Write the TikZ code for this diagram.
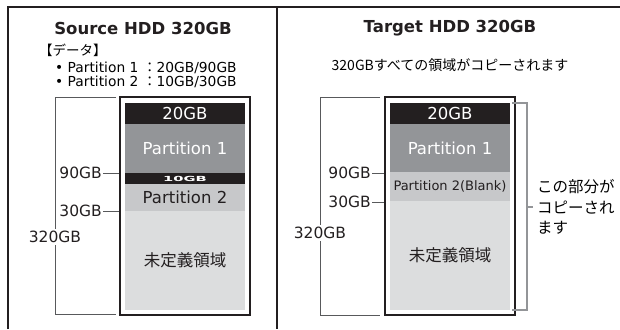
\documentclass[tikz,border=0pt]{standalone}
\usepackage{fontspec}
\setmainfont{DejaVu Sans}
\newfontfamily\jpfont{Noto Sans CJK JP}
\usetikzlibrary{positioning}
\definecolor{bandblack}{HTML}{231F20}
\definecolor{partgrey}{HTML}{939598}
\definecolor{blankgrey}{HTML}{C7C8CA}
\definecolor{freegrey}{HTML}{DCDDDE}
\definecolor{linegrey}{HTML}{58595B}

\begin{document}
\begin{tikzpicture}[x=1pt,y=-1pt,
    frame/.style={draw=bandblack,line width=2pt},
    disk/.style={draw=bandblack,line width=2pt,minimum width=130pt,minimum height=218pt,inner sep=0pt},
    band/.style={minimum width=120pt,inner sep=0pt,outer sep=0pt,font=\fontsize{16.5}{16}\selectfont},
    size/.style={font=\fontsize{15.5}{16}\selectfont,inner sep=1pt,text=bandblack},
    brace/.style={draw=linegrey,line width=0.8pt},
    copybr/.style={draw=partgrey,line width=1.5pt},
    title/.style={font=\bfseries\fontsize{16.5}{18}\selectfont,text=bandblack}]
    \useasboundingbox (0,0) rectangle (620,329);
    \draw[frame] (8,329) -- (8,7) -- (620,7);
    \draw[frame] (277,7) -- (277,329);
    \node[title] (stitle) at (143,28) {Source HDD 320GB};
    \node[title] (ttitle) at (450,28) {Target HDD 320GB};
    \node[anchor=west,inner sep=0pt,font=\jpfont\fontsize{13.5}{14}\selectfont] (sdata) at (39,50) {【データ】};
    \node[anchor=west,inner sep=0pt,font=\fontsize{13.8}{14}\selectfont] (sinfo1) at (55,68) {• Partition 1 {\jpfont ：}20GB/90GB};
    \node[anchor=west,inner sep=0pt,font=\fontsize{13.8}{14}\selectfont] (sinfo2) at (55,82) {• Partition 2 {\jpfont ：}10GB/30GB};
    \node[inner sep=0pt,font=\jpfont\fontsize{14}{14}\selectfont] (tnote) at (450,65) {320GBすべての領域がコピーされます};

    \node[disk] (sdisk) at (185,206) {};
    \node[band,fill=bandblack,text=white,minimum height=21pt,anchor=north] (s20) at (185,103) {20GB};
    \node[band,fill=partgrey,text=white,minimum height=49pt,below=0pt of s20] (sp1) {Partition 1};
    \node[band,fill=bandblack,text=white,minimum height=11pt,below=0pt of sp1,font=\bfseries\fontsize{7}{7}\selectfont] (s10) {\scalebox{2.1}[1]{10GB}};
    \node[band,fill=blankgrey,text=bandblack,minimum height=27pt,below=0pt of s10] (sp2) {Partition 2};
    \node[band,fill=freegrey,text=bandblack,minimum height=99pt,below=0pt of sp2,font=\jpfont\fontsize{16.5}{16}\selectfont] (sfree) {未定義領域};
    \node[size,anchor=east] (s90) at (103,173) {90GB};
    \node[size,anchor=east] (s30) at (103,211) {30GB};
    \draw[brace] (s90.east) -- (s90.east -| sdisk.west);
    \draw[brace] (s30.east) -- (s30.east -| sdisk.west);
    \coordinate (sbrtop) at (116,97);
    \coordinate (sbrbot) at (116,314);
    \node[size,inner sep=2pt] (s320) at (55,237) {320GB};
    \draw[brace] (sbrtop) -| (s320.north);
    \draw[brace] (s320.south) |- (sbrbot);

    \node[disk] (tdisk) at (450,206) {};
    \node[band,fill=bandblack,text=white,minimum height=21pt,anchor=north] (t20) at (450,103) {20GB};
    \node[band,fill=partgrey,text=white,minimum height=48pt,below=0pt of t20] (tp1) {Partition 1};
    \node[band,fill=blankgrey,text=bandblack,minimum height=29pt,below=0pt of tp1,font=\fontsize{13}{13}\selectfont] (tp2) {Partition 2(Blank)};
    \node[band,fill=freegrey,text=bandblack,minimum height=109pt,below=0pt of tp2,font=\jpfont\fontsize{16.5}{16}\selectfont] (tfree) {未定義領域};
    \node[size,anchor=east] (t90) at (372,173) {90GB};
    \node[size,anchor=east] (t30) at (372,202) {30GB};
    \draw[brace] (t90.east) -- (t90.east -| tdisk.west);
    \draw[brace] (t30.east) -- (t30.east -| tdisk.west);
    \coordinate (tbrtop) at (380,97);
    \coordinate (tbrbot) at (380,315);
    \node[size,inner sep=2pt] (t320) at (320,233) {320GB};
    \draw[brace] (tbrtop) -| (t320.north);
    \draw[brace] (t320.south) |- (tbrbot);

    \coordinate (cptop) at (512,103);
    \coordinate (cpbot) at (512,310);
    \coordinate (cpmid) at (527,207);
    \draw[copybr] (cptop) -| (cpmid) |- (cpbot);
    \node[anchor=west,align=left,inner xsep=4pt,inner ysep=0pt,font=\jpfont\fontsize{15.5}{20.5}\selectfont] (cpnote) at (533,207) {この部分が\\コピーされ\\ます};
    \draw[copybr] (cpmid) -- (cpnote.west);
\end{tikzpicture}
\end{document}
